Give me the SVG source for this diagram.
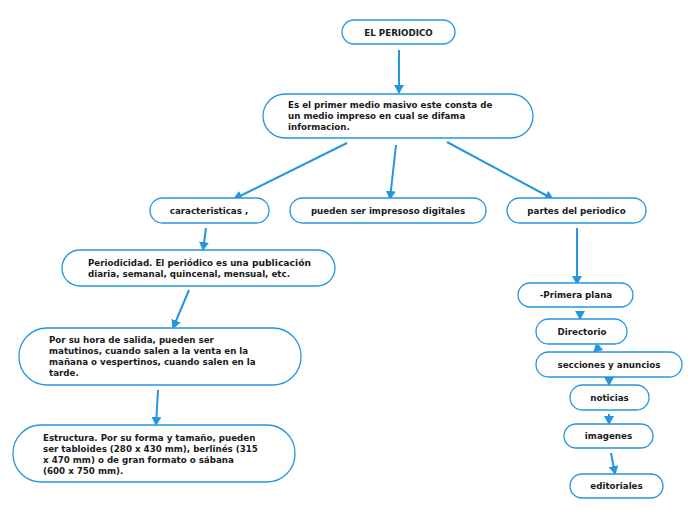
<svg xmlns="http://www.w3.org/2000/svg" width="696" height="520" viewBox="0 0 696 520">
<style>
.n{fill:#fff;stroke:#2596de;stroke-width:1.3}
.t{font-family:"DejaVu Sans",Verdana,sans-serif;font-weight:bold;font-size:8.7px;fill:#1a1a1a}
.c{text-anchor:middle}
.e{stroke:#2596de;stroke-width:2;fill:none;marker-end:url(#a)}
</style>
<defs>
<marker id="a" markerWidth="10" markerHeight="10" refX="8" refY="5" orient="auto" markerUnits="userSpaceOnUse">
<path d="M0,0 L9,5 L0,10 Z" fill="#2596de"/>
</marker>
</defs>
<rect width="696" height="520" fill="#fff"/>
<g id="connectors">
<line class="e" x1="399" y1="50" x2="399" y2="93"/>
<line class="e" x1="347" y1="143" x2="234" y2="199"/>
<line class="e" x1="396" y1="145" x2="390" y2="199"/>
<line class="e" x1="447" y1="142" x2="553" y2="199"/>
<line class="e" x1="206" y1="228" x2="203" y2="250"/>
<line class="e" x1="189" y1="290" x2="173" y2="328"/>
<line class="e" x1="158" y1="390" x2="156" y2="425"/>
<line class="e" x1="577" y1="228" x2="577" y2="284"/>
<line class="e" x1="580" y1="311" x2="580" y2="319"/>
<line class="e" x1="600" y1="346" x2="594" y2="352"/>
<line class="e" x1="609" y1="378" x2="609" y2="385"/>
<line class="e" x1="609" y1="414" x2="609" y2="424"/>
<line class="e" x1="611" y1="453" x2="615" y2="474"/>
</g>
<g id="n1"><rect class="n" x="342" y="20" width="113" height="24" rx="12"/><text class="t c" x="398.5" y="35.5">EL PERIODICO</text></g>
<g id="n2"><rect class="n" x="263" y="94" width="270" height="44" rx="22"/><text class="t" x="288" y="108"><tspan x="288">Es el primer medio masivo este consta de</tspan><tspan x="288" dy="11">un medio impreso en cual se difama</tspan><tspan x="288" dy="11">informacion.</tspan></text></g>
<g id="n3"><rect class="n" x="150" y="198" width="119" height="25" rx="12.5"/><text class="t c" x="209" y="214">caracteristicas ,</text></g>
<g id="n4"><rect class="n" x="290" y="198" width="196" height="25" rx="12.5"/><text class="t c" x="388" y="214">pueden ser impresoso digitales</text></g>
<g id="n5"><rect class="n" x="507" y="198" width="139" height="25" rx="12.5"/><text class="t c" x="576.5" y="214">partes del periodico</text></g>
<g id="n6"><rect class="n" x="62" y="250" width="273" height="36" rx="18"/><text class="t" x="88" y="266"><tspan x="88">Periodicidad. El periódico es un<tspan font-size="9.2">a publicación</tspan></tspan><tspan x="88" dy="11">diaria, semanal, quincenal, mensual, etc.</tspan></text></g>
<g id="n7"><rect class="n" x="19" y="328" width="282" height="57" rx="28"/><text class="t" x="49" y="343"><tspan x="49">Por su hora de salida, pueden ser</tspan><tspan x="49" dy="11">matutinos, cuando salen a la venta en la</tspan><tspan x="49" dy="11">mañana o vespertinos, cuando salen en la</tspan><tspan x="49" dy="11">tarde.</tspan></text></g>
<g id="n8"><rect class="n" x="13" y="425" width="282" height="57" rx="28"/><text class="t" x="43" y="441"><tspan x="43">Estructura. Por su forma y tamaño, pueden</tspan><tspan x="43" dy="11">ser tabloides (280 x 430 mm), berlinés (315</tspan><tspan x="43" dy="11">x 470 mm) o de gran formato o sábana</tspan><tspan x="43" dy="11">(600 x 750 mm).</tspan></text></g>
<g id="n9"><rect class="n" x="518" y="283" width="115" height="24" rx="12"/><text class="t c" x="576" y="298">-Primera plana</text></g>
<g id="n10"><rect class="n" x="536" y="319" width="91" height="25" rx="12.5"/><text class="t c" x="582" y="335">Directorio</text></g>
<g id="n11"><rect class="n" x="536" y="352" width="146" height="25" rx="12.5"/><text class="t c" x="609" y="368">secciones y anuncios</text></g>
<g id="n12"><rect class="n" x="570" y="385" width="79" height="25" rx="12.5"/><text class="t c" x="609.5" y="401">noticias</text></g>
<g id="n13"><rect class="n" x="564" y="424" width="89" height="24" rx="12"/><text class="t c" x="608.5" y="439">imagenes</text></g>
<g id="n14"><rect class="n" x="570" y="474" width="93" height="24" rx="12"/><text class="t c" x="616.5" y="489">editoriales</text></g>
</svg>
